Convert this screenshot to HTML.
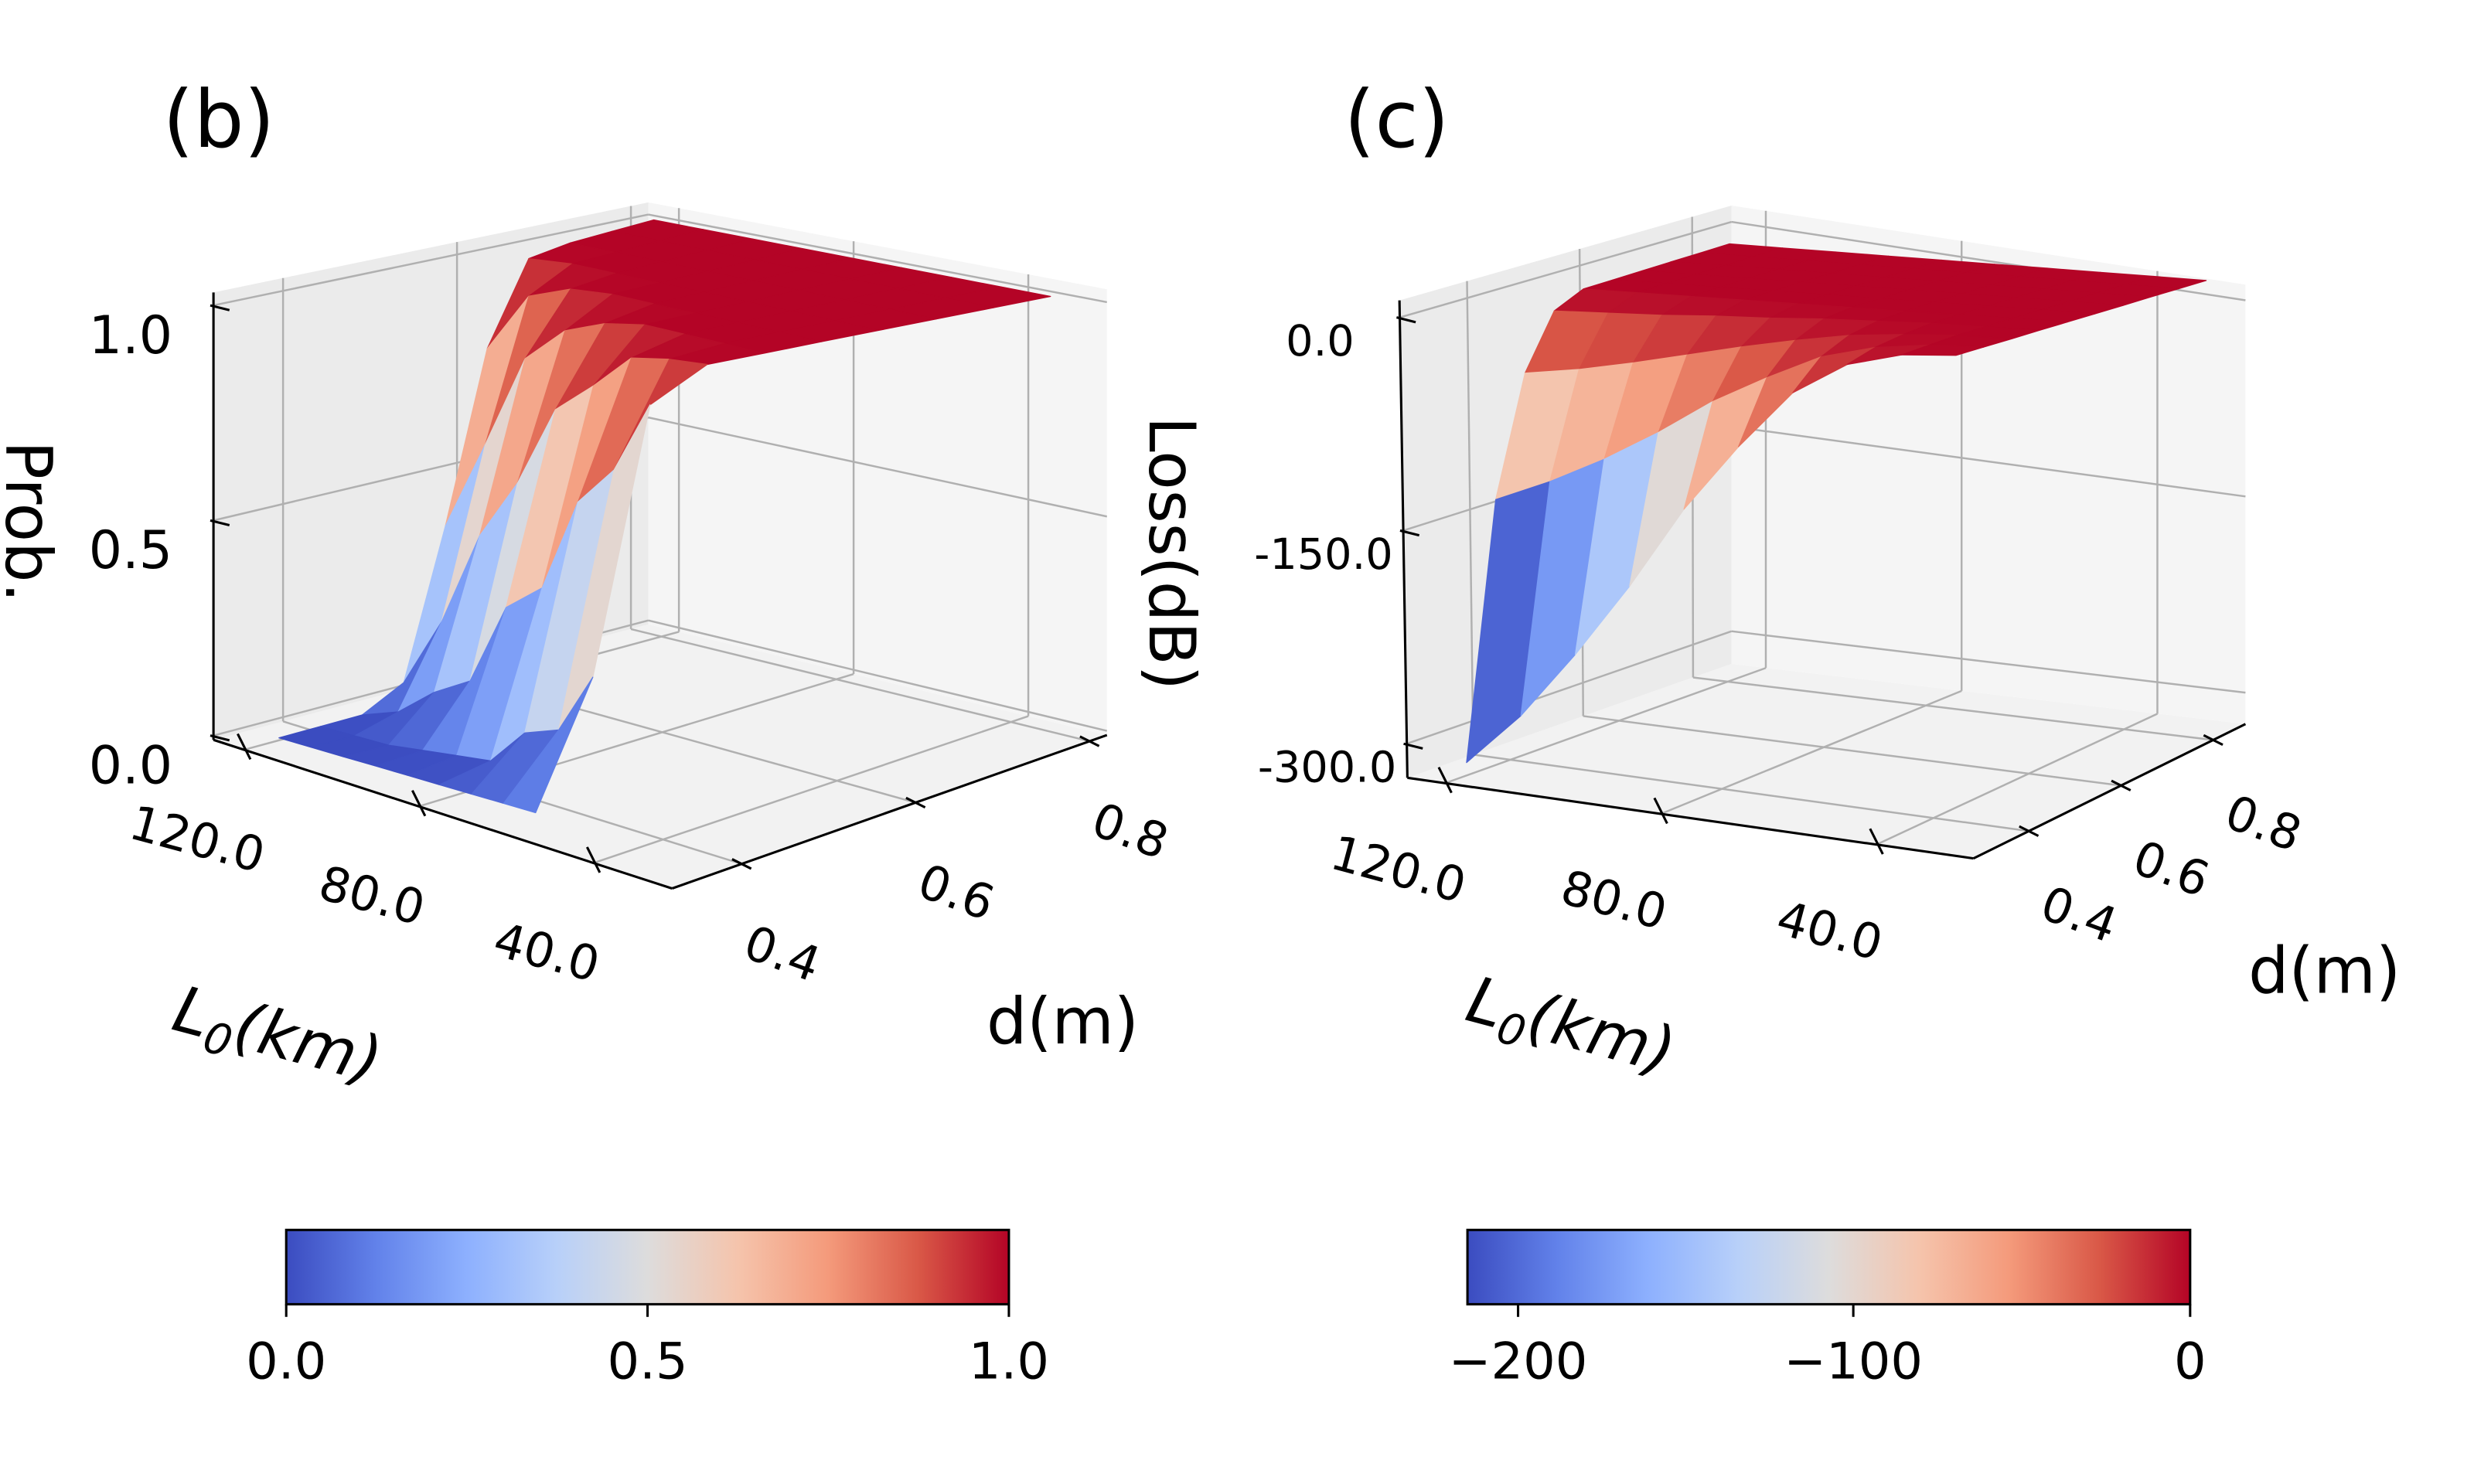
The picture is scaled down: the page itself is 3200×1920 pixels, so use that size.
<!DOCTYPE html>
<html><head><meta charset="utf-8">
<style>
html,body{margin:0;padding:0;background:#fff;}
svg{display:block;font-family:"DejaVu Sans","Liberation Sans",sans-serif;}
</style></head>
<body>
<svg id="fig" width="3200" height="1920" viewBox="0 0 1552 931.2" xmlns="http://www.w3.org/2000/svg">
<defs>
<linearGradient id="cw" x1="0" x2="1" y1="0" y2="0">
<stop offset="0" stop-color="#3b4cc0"/><stop offset="0.125" stop-color="#6282ea"/><stop offset="0.25" stop-color="#8db0fe"/><stop offset="0.375" stop-color="#b8d0f9"/><stop offset="0.5" stop-color="#dddcdc"/><stop offset="0.625" stop-color="#f5c4ac"/><stop offset="0.75" stop-color="#f49a7b"/><stop offset="0.875" stop-color="#d95847"/><stop offset="1" stop-color="#b40426"/>
</linearGradient>
</defs>
<g id="pb"></g>
<g id="pc"></g>
<g transform="scale(0.992)">
<text x="103" y="93" font-size="50">(b)</text>
<text x="850" y="93" font-size="50">(c)</text>
<g>
<rect x="181" y="778" width="457" height="47" fill="url(#cw)" stroke="#000" stroke-width="1.5"/>
<line x1="181" y1="825" x2="181" y2="833" stroke="#000" stroke-width="1.5"/>
<line x1="409.5" y1="825" x2="409.5" y2="833" stroke="#000" stroke-width="1.5"/>
<line x1="638" y1="825" x2="638" y2="833" stroke="#000" stroke-width="1.5"/>
<text x="181" y="872" font-size="32" text-anchor="middle">0.0</text>
<text x="409.5" y="872" font-size="32" text-anchor="middle">0.5</text>
<text x="638" y="872" font-size="32" text-anchor="middle">1.0</text>
</g>
<g>
<rect x="928" y="778" width="457" height="47" fill="url(#cw)" stroke="#000" stroke-width="1.5"/>
<line x1="960" y1="825" x2="960" y2="833" stroke="#000" stroke-width="1.5"/>
<line x1="1172" y1="825" x2="1172" y2="833" stroke="#000" stroke-width="1.5"/>
<line x1="1385" y1="825" x2="1385" y2="833" stroke="#000" stroke-width="1.5"/>
<text x="960" y="872" font-size="32" text-anchor="middle">−200</text>
<text x="1172" y="872" font-size="32" text-anchor="middle">−100</text>
<text x="1385" y="872" font-size="32" text-anchor="middle">0</text>
</g>
</g>
</svg>
<script>
var probL = [40,50,60,70,80,90,100,110,120];
var lossL = [30,40,50,60,70,80,90,100,110,120];
var ds = [0.35,0.4,0.45,0.5,0.55,0.6,0.65,0.7,0.75,0.8];
var probVals = [
[0,0.3,0.93,1,1,1,1,1,1,1],
[0,0.15,0.75,0.99,1,1,1,1,1,1],
[0,0.12,0.65,0.97,1,1,1,1,1,1],
[0,0.03,0.42,0.88,1,1,1,1,1,1],
[0,0.02,0.35,0.8,0.98,1,1,1,1,1],
[0,0.01,0.15,0.6,0.94,1,1,1,1,1],
[0,0,0.1,0.45,0.85,0.99,1,1,1,1],
[0,0,0.03,0.22,0.62,0.95,1,1,1,1],
[0,0,0,0.05,0.4,0.8,0.99,1,1,1]];
var lossVals = [
[0,0,0,0,0,0,0,0,0,0],
[-2,-1,0,0,0,0,0,0,0,0],
[-11,-5,-2,0,0,0,0,0,0,0],
[-33,-14,-5,-1,0,0,0,0,0,0],
[-73,-31,-11,-2,0,0,0,0,0,0],
[-119,-50,-18,-4,0,0,0,0,0,0],
[-175,-74,-26,-5,0,0,0,0,0,0],
[-225,-95,-34,-7,0,0,0,0,0,0],
[-270,-113,-41,-8,0,0,0,0,0,0],
[-305,-128,-46,-9,0,0,0,0,0,0]];
var lTicks = [120,80,40];
var dTicks = [0.4,0.6,0.8];
var bZTicks = [0,0.5,1];
var bZLabels = ["0.0","0.5","1.0"];
var cZTicks = [0,-150,-300];
var cZLabels = ["0.0","-150.0","-300.0"];

var NS="http://www.w3.org/2000/svg";
var SC=0.992;
var stops=[[59,76,192],[98,130,234],[141,176,254],[184,208,249],[221,220,220],[245,196,172],[244,154,123],[217,88,71],[180,4,38]];
function cmap(t){t=Math.max(0,Math.min(1,t));var s=t*8,i=Math.min(7,Math.floor(s)),f=s-i;var a=stops[i],b=stops[i+1];
return "rgb("+[0,1,2].map(function(k){return Math.round(a[k]+(b[k]-a[k])*f);}).join(",")+")";}
function mk(tag,attrs,parent){var e=document.createElementNS(NS,tag);for(var k in attrs)e.setAttribute(k,attrs[k]);parent.appendChild(e);return e;}
function sc(p){return [p[0]*SC,p[1]*SC];}

function makePanel(g,cfg,Ls,vals,zTicks,zLabels,cmin,cmax){
  ["left","front","right","back"].forEach(function(k){cfg.floor[k]=sc(cfg.floor[k]);cfg.top[k]=sc(cfg.top[k]);});
  function bil(c,u,v){
    var x=c.left[0]*(1-u)*(1-v)+c.front[0]*u*(1-v)+c.right[0]*u*v+c.back[0]*(1-u)*v;
    var y=c.left[1]*(1-u)*(1-v)+c.front[1]*u*(1-v)+c.right[1]*u*v+c.back[1]*(1-u)*v;
    return [x,y];}
  function P(L,d,z){var u=(cfg.Lhi-L)/(cfg.Lhi-cfg.Llo),v=(d-cfg.dlo)/(cfg.dhi-cfg.dlo);
    var w=(z-cfg.zlo)/(cfg.zhi-cfg.zlo);var a=bil(cfg.floor,u,v),b=bil(cfg.top,u,v);
    return [a[0]+(b[0]-a[0])*w,a[1]+(b[1]-a[1])*w];}
  var S=cfg.surf;
  function Ps(L,d,z){var u=(S.Lmax-L)/(S.Lmax-S.Lmin),v=(d-S.dmin)/(S.dmax-S.dmin);
    var a=bil({left:S.A,front:S.B,right:S.C,back:S.D},u,v);return [a[0],a[1]-z*S.h];}
  var F=cfg.floor,T=cfg.top;
  function pstr(pts){return pts.map(function(p){return p[0].toFixed(1)+","+p[1].toFixed(1);}).join(" ");}
  function poly(pts,fill,name){var e=mk("polygon",{points:pstr(pts),fill:fill},g);
    
    
    return e;}
  poly([F.left,F.front,F.right,F.back],"#f2f2f2","floor-pane");
  poly([F.left,F.back,T.back,T.left],"#ebebeb","left-pane");
  poly([F.back,F.right,T.right,T.back],"#f5f5f5","right-pane");
  function ln(a,b,col,w,name){var e=mk("line",{x1:a[0],y1:a[1],x2:b[0],y2:b[1],stroke:col,"stroke-width":w},g);
    
    }
  var gc="#b0b0b0";
  lTicks.forEach(function(L){ln(P(L,cfg.dlo,cfg.zlo),P(L,cfg.dhi,cfg.zlo),gc,1.2,"grid-l");ln(P(L,cfg.dhi,cfg.zlo),P(L,cfg.dhi,cfg.zhi),gc,1.2,"grid-l-wall");});
  dTicks.forEach(function(d){ln(P(cfg.Lhi,d,cfg.zlo),P(cfg.Llo,d,cfg.zlo),gc,1.2,"grid-d");ln(P(cfg.Lhi,d,cfg.zlo),P(cfg.Lhi,d,cfg.zhi),gc,1.2,"grid-d-wall");});
  zTicks.forEach(function(z){ln(P(cfg.Llo,cfg.dhi,z),P(cfg.Lhi,cfg.dhi,z),gc,1.2,"grid-z");ln(P(cfg.Lhi,cfg.dhi,z),P(cfg.Lhi,cfg.dlo,z),gc,1.2,"grid-z");});
  ln(F.left,F.front,"#000",1.5,"l-axis-line");ln(F.front,F.right,"#000",1.5,"d-axis-line");ln(F.left,T.left,"#000",1.5,"z-axis-line");
  var quads=[];
  for(var i=0;i<Ls.length-1;i++)for(var j=0;j<ds.length-1;j++){
    var z=[vals[i][j],vals[i+1][j],vals[i+1][j+1],vals[i][j+1]];
    var depth=(i+0.5)/(Ls.length-1)+(j+0.5)/(ds.length-1);
    quads.push({i:i,j:j,z:z,depth:depth});}
  quads.sort(function(a,b){return b.depth-a.depth;});
  quads.forEach(function(q){var i=q.i,j=q.j;
    var pts=[Ps(Ls[i],ds[j],q.z[0]),Ps(Ls[i+1],ds[j],q.z[1]),Ps(Ls[i+1],ds[j+1],q.z[2]),Ps(Ls[i],ds[j+1],q.z[3])];
    var m=(q.z[0]+q.z[1]+q.z[2]+q.z[3])/4;var c=cmap((m-cmin)/(cmax-cmin));
    var e=mk("polygon",{points:pstr(pts),fill:c,stroke:c,"stroke-width":0.6,"stroke-linejoin":"round"},g);
    
    });
  function tx(x,y,s,fs,rot,name,anchor){var e=mk("text",{x:x,y:y,"font-size":fs,"text-anchor":anchor||"middle",transform:rot?"rotate("+rot+" "+x+" "+y+")":""},g);e.textContent=s;
    
    }
  lTicks.forEach(function(L){var a=P(L,cfg.dlo,cfg.zlo);ln([a[0]-4,a[1]-10],[a[0]+4,a[1]+6],"#000",1.5,"l-tick");
    tx(a[0]+cfg.lOff[0],a[1]+cfg.lOff[1],L.toFixed(1),30,15,"l-tick-label");});
  dTicks.forEach(function(d){var a=P(cfg.Llo,d,cfg.zlo);ln([a[0]-6,a[1]-3],[a[0]+6,a[1]+3],"#000",1.5,"d-tick");
    tx(a[0]+cfg.dOff[0],a[1]+cfg.dOff[1],d.toFixed(1),30,20,"d-tick-label");});
  zTicks.forEach(function(z,k){var a=P(cfg.Lhi,cfg.dlo,z);ln([a[0]-2,a[1]],[a[0]+10,a[1]+3],"#000",1.5,"z-tick");
    tx(a[0]+cfg.zOff[0],a[1]+cfg.zOff[1],zLabels[k],cfg.zfs,0,"z-tick-label","middle");});
  var dl=sc(cfg.dLab),ll=sc(cfg.lLab),zl=sc(cfg.zLab);
  tx(dl[0],dl[1],"d(m)",40,0,"d-axis-title");
  var e=mk("text",{x:ll[0],y:ll[1],"font-size":40,"font-style":"italic","text-anchor":"middle",transform:"rotate(15 "+ll[0]+" "+ll[1]+")"},g);
  e.innerHTML='L<tspan font-size="27" dy="8">0</tspan><tspan dy="-8">(km)</tspan>';
  
  
  tx(zl[0],zl[1],cfg.zName,40,90,"z-axis-title");
}
makePanel(document.getElementById("pb"),{
  floor:{left:[135,468],front:[425,562],right:[700,465],back:[410,395]},
  top:{left:[135,185],front:[425,262],right:[700,183],back:[410,128]},
  Llo:22,Lhi:127,dlo:0.32,dhi:0.82,zlo:-0.01,zhi:1.03,
  surf:{Lmin:40,Lmax:120,dmin:0.35,dmax:0.8,A:[175,463],B:[336,510],C:[659,446],D:[410,398],h:260},
  lOff:[-32,66],dOff:[22,66],zOff:[-52,30],zfs:33,
  dLab:[672,660],lLab:[172,668],zLab:[4,330],zName:"Prob."
},probL,probVals,bZTicks,bZLabels,0,1);
makePanel(document.getElementById("pc"),{
  floor:{left:[890,492],front:[1248,543],right:[1420,458],back:[1095,420]},
  top:{left:[885,190],front:[1248,228],right:[1420,180],back:[1095,130]},
  Llo:22,Lhi:127,dlo:0.28,dhi:0.87,zlo:-324,zhi:12,
  surf:{Lmin:30,Lmax:120,dmin:0.35,dmax:0.8,A:[920,204],B:[1227,223],C:[1384,176],D:[1085,153],h:0.9},
  lOff:[-32,64],dOff:[28,62],zOff:[-50,24],zfs:27,
  dLab:[1470,628],lLab:[990,662],zLab:[727,350],zName:"Loss(dB)"
},lossL,lossVals,cZTicks,cZLabels,-216,0);
</script>
</body></html>
